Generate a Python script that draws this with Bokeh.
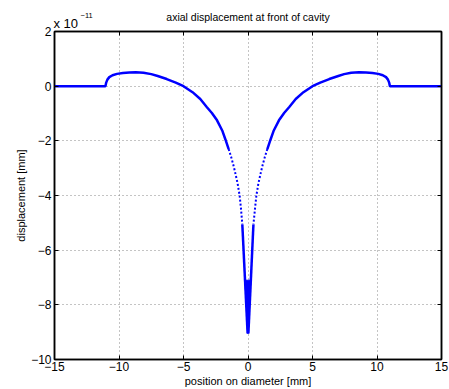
from bokeh.plotting import figure
from bokeh.models import Range1d, FixedTicker, LinearAxis, Label
from bokeh.embed import file_html
from bokeh.resources import INLINE

# data (displacement in units of 1e-11 mm)
left_x = [-15.0, -11.05, -11.0, -10.9, -10.75, -10.5, -10.15, -9.7, -9.2, -8.7, -8.1, -7.5, -7.0, -6.3, -5.6, -5.0, -4.3, -3.7, -3.2, -2.8, -2.4, -2.0, -1.75, -1.5]
left_y = [0.0, 0.0, 0.12, 0.24, 0.33, 0.40, 0.45, 0.48, 0.50, 0.51, 0.49, 0.44, 0.37, 0.26, 0.13, 0.0, -0.22, -0.47, -0.76, -0.98, -1.25, -1.62, -1.95, -2.30]
left_dot_x = [-1.5, -1.3, -1.1, -0.95, -0.79, -0.65, -0.55, -0.44]
left_dot_y = [-2.30, -2.60, -2.95, -3.25, -3.60, -4.00, -4.45, -5.06]
right_x = [15.0, 11.0, 10.95, 10.85, 10.7, 10.45, 10.1, 9.65, 9.15, 8.6, 8.0, 7.45, 7.0, 6.3, 5.6, 5.0, 4.3, 3.7, 3.2, 2.8, 2.4, 2.0, 1.75, 1.5]
right_y = [0.0, 0.0, 0.12, 0.24, 0.33, 0.40, 0.45, 0.48, 0.50, 0.51, 0.49, 0.44, 0.37, 0.26, 0.13, 0.0, -0.22, -0.47, -0.76, -0.98, -1.25, -1.62, -1.95, -2.30]
right_dot_x = [1.5, 1.3, 1.1, 0.95, 0.79, 0.65, 0.55, 0.42]
right_dot_y = [-2.30, -2.60, -2.95, -3.25, -3.60, -4.00, -4.45, -5.06]
spike_left_x = [-0.44, -0.03]
spike_right_x = [0.42, 0.03]
spike_y = [-5.06, -9.05]
wedge_x = [-0.24, 0.22, 0.0]
wedge_y = [-7.1, -7.1, -9.05]

xticks = [-15, -10, -5, 0, 5, 10, 15]
yticks = [-10, -8, -6, -4, -2, 0, 2]

TITLE = "axial displacement at front of cavity"
XLABEL = "position on diameter [mm]"
YLABEL = "displacement [mm]"

FONT = "Liberation Sans"
BLUE = "#0000ff"

def lab(v):
    return str(v).replace("-", "\u2212")

p = figure(width=449, height=389, x_range=Range1d(-15, 15), y_range=Range1d(-10, 2),
           output_backend="svg", toolbar_location=None, title=None,
           min_border_left=54, min_border_right=8, min_border_top=31, min_border_bottom=30)
p.background_fill_color = "white"
p.border_fill_color = "white"
p.outline_line_color = "black"
p.outline_line_width = 1.5

for ax in p.xaxis:
    ax.ticker = FixedTicker(ticks=xticks)
    ax.major_label_overrides = {t: lab(t) for t in xticks}
    ax.axis_label = XLABEL
    ax.major_label_standoff = 2
for ax in p.yaxis:
    ax.ticker = FixedTicker(ticks=yticks)
    ax.major_label_overrides = {t: lab(t) for t in yticks}
    ax.axis_label = YLABEL
    ax.major_label_standoff = 3

for ax in list(p.xaxis) + list(p.yaxis):
    ax.axis_line_color = "black"
    ax.axis_line_width = 1.5
    ax.major_tick_in = 4
    ax.major_tick_out = 0
    ax.major_tick_line_color = "black"
    ax.minor_tick_line_color = None
    ax.major_label_text_font = FONT
    ax.major_label_text_font_size = "12px"
    ax.major_label_text_color = "black"
    ax.axis_label_text_font = FONT
    ax.axis_label_text_font_size = "11px"
    ax.axis_label_text_font_style = "normal"
    ax.axis_label_text_color = "black"
    ax.axis_label_standoff = 1

for loc, tk in (("above", xticks), ("right", yticks)):
    ax = LinearAxis(ticker=FixedTicker(ticks=tk), major_label_text_font_size="1px",
                    major_label_text_color=None, major_label_standoff=0,
                    axis_line_color="black", axis_line_width=1.5,
                    major_tick_in=4, major_tick_out=0, minor_tick_line_color=None)
    p.add_layout(ax, loc)

p.xgrid.ticker = FixedTicker(ticks=[-10, -5, 0, 5, 10])
p.ygrid.ticker = FixedTicker(ticks=[-8, -6, -4, -2, 0])
for g in (p.xgrid, p.ygrid):
    g.grid_line_color = "#888888"
    g.grid_line_dash = "1 3"
    g.grid_line_width = 1

p.line(left_x, left_y, line_color=BLUE, line_width=2.5)
p.line(right_x, right_y, line_color=BLUE, line_width=2.5)
p.line(left_dot_x, left_dot_y, line_color=BLUE, line_width=2, line_dash="2 2")
p.line(right_dot_x, right_dot_y, line_color=BLUE, line_width=2, line_dash="2 2")
p.line(spike_left_x, spike_y, line_color=BLUE, line_width=2.5)
p.line(spike_right_x, spike_y, line_color=BLUE, line_width=2.5)
p.patch(wedge_x, wedge_y, fill_color=BLUE, line_color=BLUE, line_width=1)

# texts above the frame (canvas units: pixels from top-left)
p.add_layout(Label(x=247.5, y=16, x_units="canvas", y_units="canvas", text_align="center",
                   text_baseline="alphabetic", text=TITLE, text_font=FONT,
                   text_font_size="10.5px", text_color="black"), "above")
p.add_layout(Label(x=53, y=22.5, x_units="canvas", y_units="canvas", text_baseline="alphabetic",
                   text="x 10", text_font=FONT, text_font_size="13px", text_color="black"), "above")
p.add_layout(Label(x=80, y=14.5, x_units="canvas", y_units="canvas", text_baseline="alphabetic",
                   text="\u221211", text_font=FONT, text_font_size="7.5px", text_color="black"), "left")

open("out.html", "w").write(file_html(p, INLINE))
